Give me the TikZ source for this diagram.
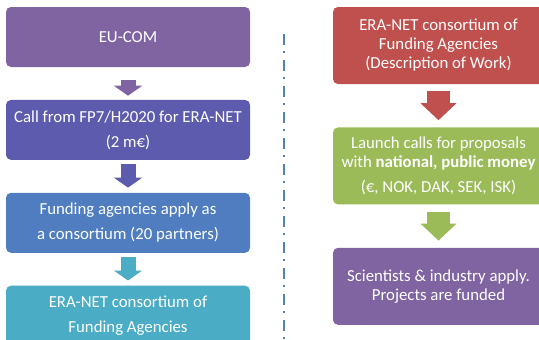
\documentclass[tikz,border=0pt]{standalone}
\usepackage{fontspec}
\setmainfont{Carlito}
\usetikzlibrary{arrows.meta,positioning}
\definecolor{violetbox}{HTML}{8064A2}
\definecolor{indigobox}{HTML}{5C5BAD}
\definecolor{bluebox}{HTML}{4F7DBF}
\definecolor{tealbox}{HTML}{4BACC6}
\definecolor{redbox}{HTML}{C0504D}
\definecolor{greenbox}{HTML}{9BBB59}
\definecolor{divider}{HTML}{4F81BD}

\begin{document}
\begin{tikzpicture}[x=1pt, y=-1pt, node distance=32.5pt,
    lbox/.style = {rounded corners=5pt, minimum width=244pt, minimum height=60pt, text=white, align=center, font=\fontsize{16.8}{25}\selectfont},
    rbox/.style = {rounded corners=5pt, minimum width=211pt, minimum height=77pt, text=white, align=center, font=\fontsize{16.8}{19}\selectfont},
    larrow/.style = {line width=15pt, -{Triangle[width=28pt,length=10pt]}},
    rarrow/.style = {line width=23pt, -{Triangle[width=35pt,length=17pt]}}]
    \path[use as bounding box, clip] (0,0) rectangle (539,340);

    % left column
    \node[lbox, fill=violetbox] (eucom) at (128,37) {EU-COM};
    \node[lbox, fill=indigobox] (call) [below=of eucom] {Call from FP7/H2020 for ERA-NET\\(2 m€)};
    \node[lbox, fill=bluebox] (apply) [below=of call] {Funding agencies apply as\\a consortium (20 partners)};
    \node[lbox, fill=tealbox] (consort) [below=of apply] {ERA-NET consortium of\\Funding Agencies};

    \draw[larrow, violetbox, shorten <=13pt, shorten >=4pt] (eucom) -- (call);
    \draw[larrow, indigobox, shorten <=4pt, shorten >=5pt] (call) -- (apply);
    \draw[larrow, tealbox, shorten <=4pt, shorten >=5pt] (apply) -- (consort);

    % divider
    \draw[divider, line width=2.5pt, dash pattern=on 11pt off 6pt on 2pt off 7pt] (284,34) -- (284,340);

    % right column
    \node[rbox, fill=redbox] (dow) at (438.5,45.5) {ERA-NET consortium of\\Funding Agencies\\(Description of Work)};
    \node[rbox, fill=greenbox] (launch) [below=43pt of dow] {Launch calls for proposals\\with \textbf{national, public money}\\[6pt](€, NOK, DAK, SEK, ISK)};
    \node[rbox, fill=violetbox] (funded) [below=43pt of launch] {Scientists \& industry apply.\\Projects are funded};

    \draw[rarrow, redbox, shorten <=7pt, shorten >=7pt] (dow) -- (launch);
    \draw[rarrow, greenbox, shorten <=7pt, shorten >=7pt] (launch) -- (funded);
\end{tikzpicture}
\end{document}
